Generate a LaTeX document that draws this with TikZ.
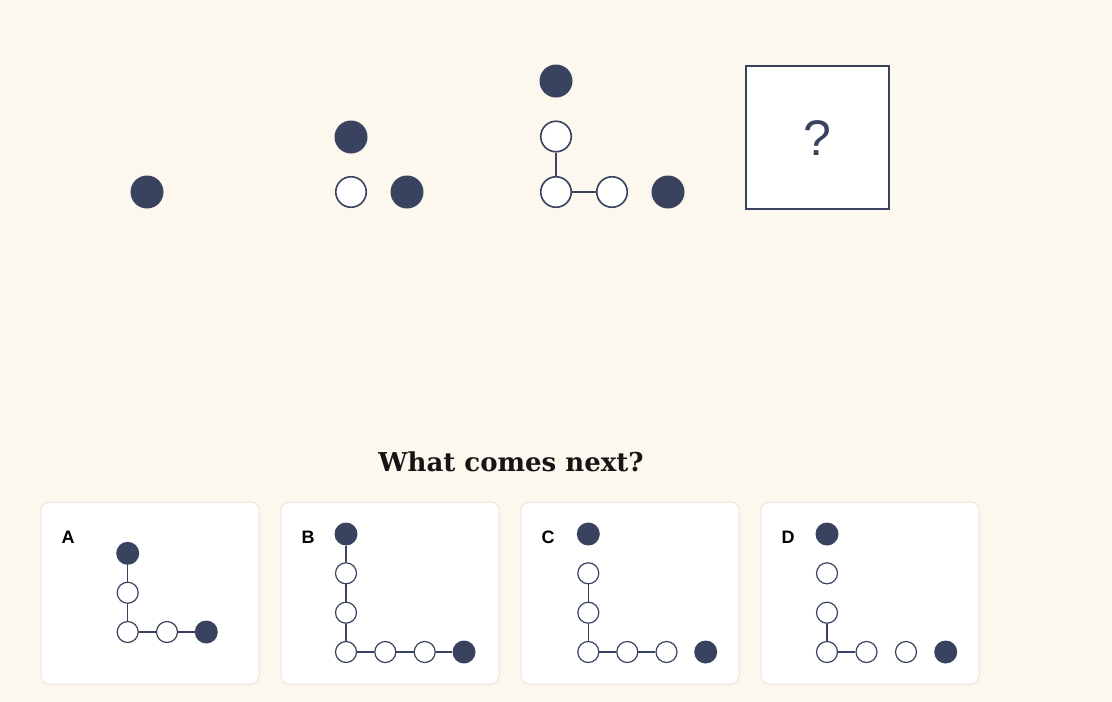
\documentclass[tikz,border=0pt]{standalone}
\usepackage{fontspec}
\setmainfont{DejaVu Serif}
\newfontfamily\lsans{Liberation Sans}
\definecolor{navy}{HTML}{394360}
\definecolor{bg}{HTML}{FDF8EE}
\definecolor{cardline}{HTML}{E9E4DA}
\definecolor{ink}{HTML}{151515}
\tikzset{
  bigfill/.style={circle, fill=navy, minimum size=33pt, inner sep=0pt},
  bigopen/.style={circle, draw=navy, fill=white, line width=1.6pt, minimum size=30.5pt, inner sep=0pt},
  smfill/.style={circle, fill=navy, minimum size=23pt, inner sep=0pt},
  smopen/.style={circle, draw=navy, fill=white, line width=1.2pt, minimum size=21pt, inner sep=0pt},
  bigline/.style={draw=navy, line width=1.6pt},
  smline/.style={draw=navy, line width=1.2pt},
  card/.style={draw=cardline, fill=white, line width=1pt, rounded corners=8pt, minimum width=218pt, minimum height=182pt, inner sep=0pt},
  cardlabel/.style={font=\lsans\bfseries\fontsize{18}{18}\selectfont, text=black, inner sep=0pt},
}
\begin{document}
\begin{tikzpicture}[x=1pt,y=-1pt]
\fill[bg] (0,0) rectangle (1112,702);
\useasboundingbox (0,0) rectangle (1112,702);
% frame 1
\node[bigfill] (f1a) at (147,192) {};
% frame 2
\node[bigfill] (f2a) at (351,137) {};
\node[bigopen] (f2b) at (351,192) {};
\node[bigfill] (f2c) at (407,192) {};
% frame 3
\node[bigfill] (f3a) at (556,81) {};
\node[bigopen] (f3b) at (556,136.5) {};
\node[bigopen] (f3c) at (556,192) {};
\node[bigopen] (f3d) at (612,192) {};
\node[bigfill] (f3e) at (668,192) {};
\draw[bigline] (f3b) -- (f3c);
\draw[bigline] (f3c) -- (f3d);
% question box
\node[draw=navy, fill=white, line width=2pt, minimum size=143pt, inner sep=0pt] (qbox) at (817,137) {};
\node[font=\lsans\fontsize{50}{50}\selectfont, text=navy, inner sep=0pt] (qmark) at (817,138) {?};
% title
\node[font=\bfseries\fontsize{26}{26}\selectfont, text=ink, inner sep=0pt] (title) at (511,462) {What comes next?};
% cards
\node[card] (cardA) at (150,593) {};
\node[card] (cardB) at (390,593) {};
\node[card] (cardC) at (630,593) {};
\node[card] (cardD) at (870,593) {};
\node[cardlabel] (labA) at (68,537) {A};
\node[cardlabel] (labB) at (308,537) {B};
\node[cardlabel] (labC) at (548,537) {C};
\node[cardlabel] (labD) at (788,537) {D};
% card A
\node[smfill] (a1) at (127.7,553.3) {};
\node[smopen] (a2) at (127.7,592.7) {};
\node[smopen] (a3) at (127.7,632) {};
\node[smopen] (a4) at (167,632) {};
\node[smfill] (a5) at (206.3,632) {};
\draw[smline] (a1) -- (a2);
\draw[smline] (a2) -- (a3);
\draw[smline] (a3) -- (a4);
\draw[smline] (a4) -- (a5);
% card B
\node[smfill] (b1) at (346,534) {};
\node[smopen] (b2) at (346,573.3) {};
\node[smopen] (b3) at (346,612.7) {};
\node[smopen] (b4) at (346,652) {};
\node[smopen] (b5) at (385.3,652) {};
\node[smopen] (b6) at (424.7,652) {};
\node[smfill] (b7) at (464,652) {};
\draw[smline] (b1) -- (b2);
\draw[smline] (b2) -- (b3);
\draw[smline] (b3) -- (b4);
\draw[smline] (b4) -- (b5);
\draw[smline] (b5) -- (b6);
\draw[smline] (b6) -- (b7);
% card C
\node[smfill] (c1) at (588.3,534) {};
\node[smopen] (c2) at (588.3,573.3) {};
\node[smopen] (c3) at (588.3,612.7) {};
\node[smopen] (c4) at (588.3,652) {};
\node[smopen] (c5) at (627.3,652) {};
\node[smopen] (c6) at (666.5,652) {};
\node[smfill] (c7) at (705.7,652) {};
\draw[smline] (c2) -- (c3);
\draw[smline] (c3) -- (c4);
\draw[smline] (c4) -- (c5);
\draw[smline] (c5) -- (c6);
% card D
\node[smfill] (d1) at (827,534) {};
\node[smopen] (d2) at (827,573.3) {};
\node[smopen] (d3) at (827,612.7) {};
\node[smopen] (d4) at (827,652) {};
\node[smopen] (d5) at (866.5,652) {};
\node[smopen] (d6) at (906,652) {};
\node[smfill] (d7) at (945.7,652) {};
\draw[smline] (d3) -- (d4);
\draw[smline] (d4) -- (d5);
\end{tikzpicture}
\end{document}
